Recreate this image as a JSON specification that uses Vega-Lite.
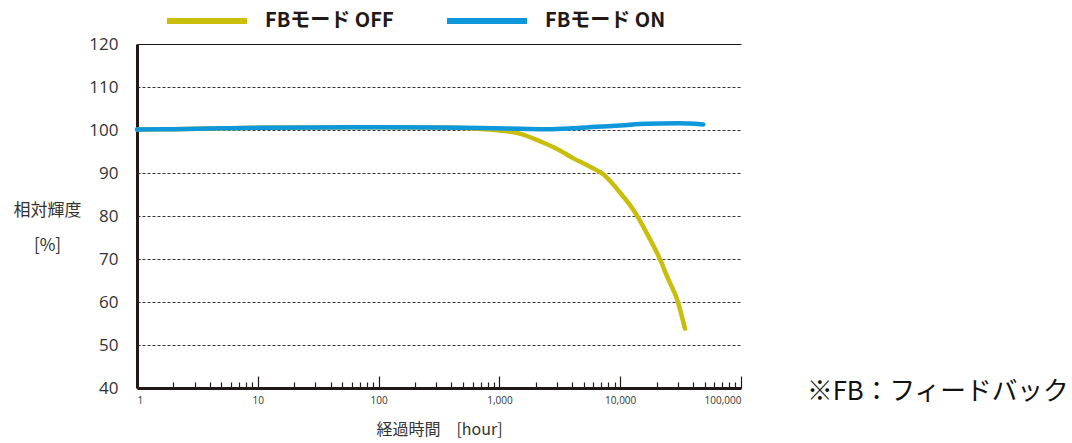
{
  "$schema": "https://vega.github.io/schema/vega-lite/v6.json",
  "width": 604,
  "height": 344,
  "autosize": "none",
  "padding": {"left": 137, "top": 44, "right": 331, "bottom": 55},
  "background": "white",
  "config": {"view": {"stroke": null}, "font": "Noto Sans CJK JP"},
  "layer": [
    {
      "data": {
        "values": [
          {"mode": "FBモード OFF", "hour": 1, "luminance": 100.1},
          {"mode": "FBモード OFF", "hour": 2, "luminance": 100.2},
          {"mode": "FBモード OFF", "hour": 5, "luminance": 100.4},
          {"mode": "FBモード OFF", "hour": 10, "luminance": 100.5},
          {"mode": "FBモード OFF", "hour": 30, "luminance": 100.6},
          {"mode": "FBモード OFF", "hour": 100, "luminance": 100.65},
          {"mode": "FBモード OFF", "hour": 300, "luminance": 100.6},
          {"mode": "FBモード OFF", "hour": 600, "luminance": 100.35},
          {"mode": "FBモード OFF", "hour": 1000, "luminance": 99.9},
          {"mode": "FBモード OFF", "hour": 1500, "luminance": 99.1},
          {"mode": "FBモード OFF", "hour": 2200, "luminance": 97.3},
          {"mode": "FBモード OFF", "hour": 3000, "luminance": 95.6},
          {"mode": "FBモード OFF", "hour": 4100, "luminance": 93.4},
          {"mode": "FBモード OFF", "hour": 5500, "luminance": 91.6},
          {"mode": "FBモード OFF", "hour": 7250, "luminance": 89.7},
          {"mode": "FBモード OFF", "hour": 10000, "luminance": 85.4},
          {"mode": "FBモード OFF", "hour": 12800, "luminance": 81.5},
          {"mode": "FBモード OFF", "hour": 16600, "luminance": 76},
          {"mode": "FBモード OFF", "hour": 21300, "luminance": 70},
          {"mode": "FBモード OFF", "hour": 25000, "luminance": 65.3},
          {"mode": "FBモード OFF", "hour": 29400, "luminance": 60.8},
          {"mode": "FBモード OFF", "hour": 34400, "luminance": 53.8},
          {"mode": "FBモード ON", "hour": 1, "luminance": 100.1},
          {"mode": "FBモード ON", "hour": 2, "luminance": 100.2},
          {"mode": "FBモード ON", "hour": 5, "luminance": 100.4},
          {"mode": "FBモード ON", "hour": 10, "luminance": 100.5},
          {"mode": "FBモード ON", "hour": 30, "luminance": 100.6},
          {"mode": "FBモード ON", "hour": 100, "luminance": 100.65},
          {"mode": "FBモード ON", "hour": 300, "luminance": 100.6},
          {"mode": "FBモード ON", "hour": 700, "luminance": 100.45},
          {"mode": "FBモード ON", "hour": 1500, "luminance": 100.3},
          {"mode": "FBモード ON", "hour": 2500, "luminance": 100.2},
          {"mode": "FBモード ON", "hour": 4000, "luminance": 100.4},
          {"mode": "FBモード ON", "hour": 6300, "luminance": 100.75},
          {"mode": "FBモード ON", "hour": 10000, "luminance": 101.05},
          {"mode": "FBモード ON", "hour": 16600, "luminance": 101.45},
          {"mode": "FBモード ON", "hour": 30000, "luminance": 101.55},
          {"mode": "FBモード ON", "hour": 48700, "luminance": 101.3}
        ]
      },
      "mark": {"type": "line", "strokeWidth": 4.5, "interpolate": "monotone", "strokeCap": "round"},
      "encoding": {
        "x": {
          "field": "hour",
          "type": "quantitative",
          "scale": {"type": "log", "domain": [1, 100000], "nice": false},
          "axis": {
            "title": "経過時間　[hour]",
            "titleFontSize": 16,
            "titleFontWeight": "normal",
            "titleColor": "#333333",
            "titlePadding": 10,
            "values": [1,2,3,4,5,6,7,8,9,10,20,30,40,50,60,70,80,90,100,200,300,400,500,600,700,800,900,1000,2000,3000,4000,5000,6000,7000,8000,9000,10000,20000,30000,40000,50000,60000,70000,80000,90000,100000],
            "labelExpr": "indexof([1,10,100,1000,10000,100000], datum.value) >= 0 ? format(datum.value, ',') : ''",
            "tickSize": {"condition": {"test": "indexof([1,10,100,1000,10000,100000], datum.value) >= 0", "value": -12}, "value": -6},
            "tickColor": "#231815",
            "tickWidth": 1.2,
            "domainColor": "#231815",
            "domainWidth": 3,
            "labelFont": "Open Sans",
            "labelFontSize": 10,
            "labelColor": "#333333",
            "labelPadding": 19,
            "labelOverlap": false,
            "grid": false
          }
        },
        "y": {
          "field": "luminance",
          "type": "quantitative",
          "scale": {"domain": [40, 120], "nice": false, "zero": false},
          "axis": {
            "title": ["相対輝度", "[%]"],
            "titleAngle": 0,
            "titleX": -90,
            "titleY": 158,
            "titleAlign": "center",
            "titleBaseline": "top",
            "titleLineHeight": 35,
            "titleFontSize": 17,
            "titleFontWeight": "normal",
            "titleColor": "#333333",
            "values": [40, 50, 60, 70, 80, 90, 100, 110, 120],
            "ticks": false,
            "labelPadding": 19,
            "labelFont": "Open Sans",
            "labelFontSize": 17,
            "labelColor": "#333333",
            "domainColor": "#231815",
            "domainWidth": 3,
            "grid": true,
            "gridColor": {"condition": {"test": "datum.value == 120", "value": "#231815"}, "value": "#333333"},
            "gridDash": {"condition": {"test": "datum.value == 120", "value": []}, "value": [3, 2]},
            "gridWidth": 1
          }
        },
        "color": {
          "field": "mode",
          "type": "nominal",
          "scale": {"domain": ["FBモード OFF", "FBモード ON"], "range": ["#C9BE0C", "#0F97DB"]},
          "legend": {
            "title": null,
            "orient": "none",
            "legendX": 27,
            "legendY": -66,
            "direction": "horizontal",
            "symbolType": "stroke",
            "symbolSize": 6400,
            "symbolStrokeWidth": 6,
            "labelFont": "Noto Sans CJK JP",
            "labelFontSize": 20,
            "labelFontWeight": "bold",
            "labelColor": "#231815",
            "labelOffset": 15,
            "columnPadding": 41
          }
        }
      }
    },
    {
      "data": {"values": [{"note": "※FB：フィードバック"}]},
      "mark": {"type": "text", "align": "left", "baseline": "middle", "fontSize": 25.7, "font": "Noto Sans CJK JP", "color": "#111111", "dx": 66, "dy": 4},
      "encoding": {"x": {"datum": 100000}, "y": {"datum": 40}, "text": {"field": "note"}}
    }
  ]
}
